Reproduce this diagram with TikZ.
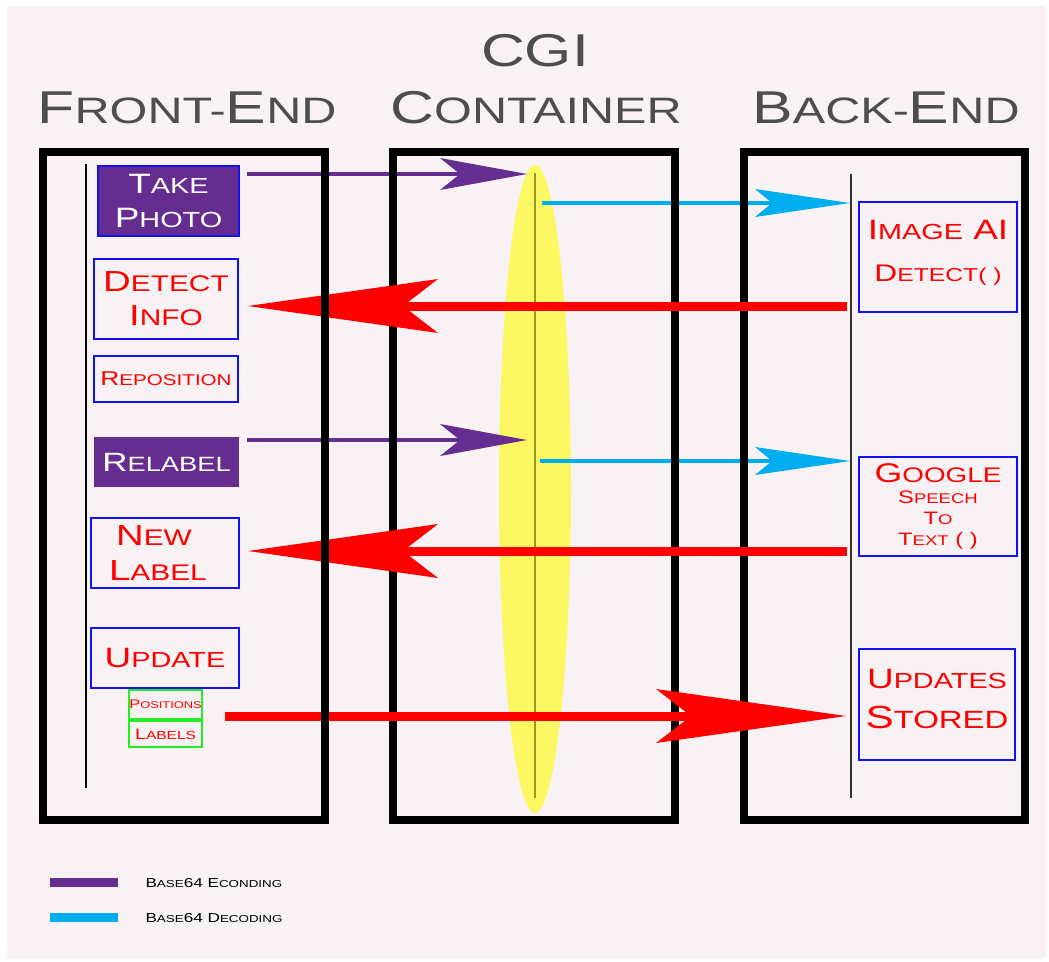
\documentclass[tikz,border=0pt]{standalone}
\usepackage{graphicx}
\usepackage{fontspec}
\setmainfont{Liberation Sans}[FakeStretch=1.32]
\usetikzlibrary{arrows.meta,shapes.geometric}

\definecolor{bgpink}{HTML}{F8F2F4}
\definecolor{encpurple}{HTML}{662D91}
\definecolor{deccyan}{HTML}{00AEEF}
\definecolor{titlegray}{HTML}{4D4D4D}
\definecolor{glowyellow}{HTML}{FCF864}
\definecolor{lifeolive}{HTML}{9A9A1A}
\definecolor{boxblue}{HTML}{1010FF}
\definecolor{boxgreen}{HTML}{22EE22}

% fake small caps
\newcommand\lc[1]{\scalebox{0.78}{#1}}
\newcommand\tlc[1]{\scalebox{0.8}{#1}}
\newcommand\fs[2]{\fontsize{#1}{#2}\selectfont}

\begin{document}
\begin{tikzpicture}[x=1pt,y=-1pt]
    \tikzstyle{frame}=[rectangle,draw=black,line width=8pt,inner sep=0pt]
    \tikzstyle{title}=[text=titlegray,anchor=base,font=\fs{46}{50}]
    \tikzstyle{msgbox}=[rectangle,draw=boxblue,line width=2pt,text=red,align=center,inner sep=0pt]
    \tikzstyle{actbox}=[rectangle,fill=encpurple,text=white,align=center,inner sep=0pt]
    \tikzstyle{subbox}=[rectangle,draw=boxgreen,line width=1.5pt,text=red,inner sep=0pt]
    \tikzstyle{lifeline}=[line width=2pt]
    \tikzstyle{enc}=[draw=encpurple,line width=4.8pt,-{Stealth[length=87pt,width=32pt,inset=20pt,line width=0pt]}]
    \tikzstyle{dec}=[draw=deccyan,line width=4pt,-{Stealth[length=95pt,width=28pt,inset=17pt,line width=0pt]}]
    \tikzstyle{reply}=[draw=red,line width=9pt,-{Stealth[length=190pt,width=54pt,inset=35pt,line width=0pt]}]
    \tikzstyle{legend}=[anchor=base west,font=\fs{13}{15}]

    \useasboundingbox (0,0) rectangle (1049,961);
    \fill[bgpink] (7,6) rectangle (1046,958);

    % Glow behind the CGI lifeline
    \node[ellipse,fill=glowyellow,minimum width=72,minimum height=648,inner sep=0pt] (glow) at (535,489) {};

    % Lifelines
    \coordinate (fe-top) at (86,164);
    \coordinate (fe-bot) at (86,788);
    \coordinate (cgi-top) at (535,173);
    \coordinate (cgi-bot) at (535,798);
    \coordinate (be-top) at (851,174);
    \coordinate (be-bot) at (851,798);
    \draw[lifeline] (fe-top) -- (fe-bot);
    \draw[lifeline,lifeolive] (cgi-top) -- (cgi-bot);
    \draw[lifeline,line width=1.5pt,black!80] (be-top) -- (be-bot);

    % Message ends
    \coordinate (take-s) at (247,174);
    \coordinate (take-e) at (527,174);
    \coordinate (relabel-s) at (247,440);
    \coordinate (relabel-e) at (527,440);
    \coordinate (ai-s) at (542,203);
    \coordinate (ai-e) at (850,203);
    \coordinate (speech-s) at (540,461);
    \coordinate (speech-e) at (850,461);
    \coordinate (info-s) at (847,306);
    \coordinate (info-e) at (248,306);
    \coordinate (label-s) at (847,551);
    \coordinate (label-e) at (248,551);
    \coordinate (store-s) at (225,716);
    \coordinate (store-e) at (846,716);

    % Encoding and decoding
    \foreach \s / \e in {take-s/take-e, relabel-s/relabel-e}
        \draw[enc] (\s) -- (\e);
    \foreach \s / \e in {ai-s/ai-e, speech-s/speech-e}
        \draw[dec] (\s) -- (\e);

    % Containers
    \node[frame,minimum width=282,minimum height=668] (cgi) at (534,486) {};
    \node[frame,minimum width=281,minimum height=668] (back) at (884.5,486) {};

    % Replies
    \foreach \s / \e in {info-s/info-e, label-s/label-e, store-s/store-e}
        \draw[reply] (\s) -- (\e);

    \node[frame,minimum width=282,minimum height=668] (front) at (184,486) {};

    % Titles
    \node[title] (cgi-title) at (535,66) {CGI};
    \node[title] (front-title) at (187,123) {F\tlc{RONT-}E\tlc{ND}};
    \node[title] (cgi-name) at (536,123) {C\tlc{ONTAINER}};
    \node[title] (back-title) at (886,123) {B\tlc{ACK-}E\tlc{ND}};

    % Front-end steps
    \node[actbox,draw=boxblue,line width=2pt,minimum width=141,minimum height=70,font=\fs{28}{34}] (takephoto) at (168.5,201) {T\lc{AKE}\\P\lc{HOTO}};
    \node[msgbox,minimum width=144,minimum height=80,font=\fs{29}{34}] (detect) at (166,299) {D\lc{ETECT}\\I\lc{NFO}};
    \node[msgbox,minimum width=144,minimum height=46,font=\fs{20}{24}] (reposition) at (166,379) {R\lc{EPOSITION}};
    \node[actbox,minimum width=145,minimum height=50,font=\fs{26.5}{30}] (relabel) at (166.5,462) {R\lc{ELABEL}};
    \node[msgbox,minimum width=148,minimum height=70,font=\fs{29}{35}] (newlabel) at (165,553) {N\lc{EW}\hspace*{22pt}\\L\lc{ABEL}\hspace*{14pt}};
    \node[msgbox,minimum width=148,minimum height=60,font=\fs{28}{32}] (update) at (165,658) {U\lc{PDATE}};
    \node[subbox,minimum width=73,minimum height=29,font=\fs{12.5}{14}] (positions) at (165.5,704.5) {P\lc{OSITIONS}};
    \node[subbox,minimum width=73,minimum height=26,font=\fs{15}{17}] (labels) at (165.5,734) {L\lc{ABELS}};

    % Back-end services
    \node[msgbox,minimum width=158,minimum height=110,text depth=13pt,font=\fs{28}{42}] (imageai) at (938,257) {I\lc{MAGE} AI\\{\fs{24}{42}D\lc{ETECT( )}}};
    \node[msgbox,minimum width=158,minimum height=99,font=\fs{18}{21}] (google) at (938,506.5) {{\fs{27}{21}G\lc{OOGLE}}\\S\lc{PEECH}\\T\lc{O}\\T\lc{EXT} ( )};
    \node[msgbox,minimum width=156,minimum height=111,text depth=12pt,font=\fs{28}{40}] (stored) at (937,704.5) {U\lc{PDATES}\\{\fs{32}{40}S\lc{TORED}}};

    % Legend
    \node[fill=encpurple,minimum width=68,minimum height=9,inner sep=0pt] (enc-key) at (84,882.5) {};
    \node[fill=deccyan,minimum width=68,minimum height=9,inner sep=0pt] (dec-key) at (84,917.5) {};
    \node[legend] (enc-text) at (142,887) {B\lc{ASE}64 E\lc{CONDING}};
    \node[legend] (dec-text) at (142,922) {B\lc{ASE}64 D\lc{ECODING}};
\end{tikzpicture}
\end{document}
